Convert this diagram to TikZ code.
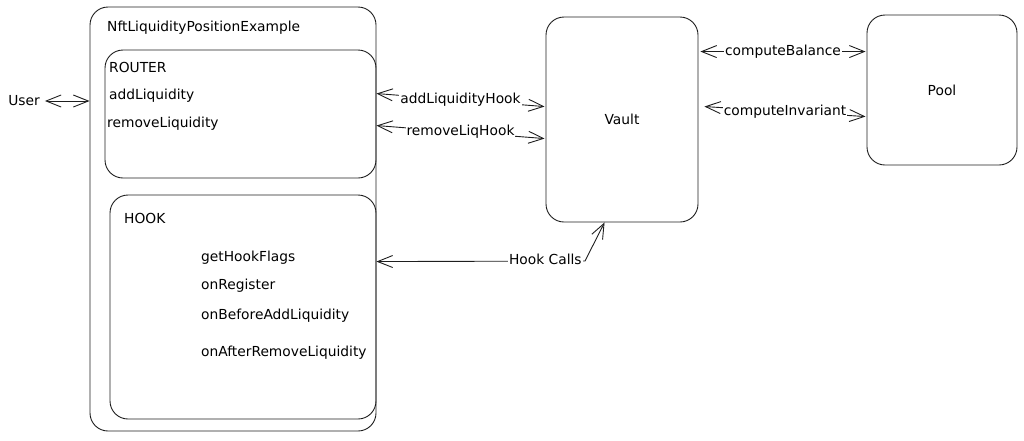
\documentclass[tikz,border=0pt]{standalone}
\usepackage{fontspec}
\setmainfont{DejaVu Sans}
\usetikzlibrary{arrows.meta,calc}
\definecolor{ink}{HTML}{1E1E1E}

\begin{document}
\begin{tikzpicture}[x=1pt,y=-1pt,
    font=\fontsize{13.8}{16}\selectfont,
    box/.style={draw=ink,line width=0.9pt,rounded corners=18pt,inner sep=0pt},
    txt/.style={anchor=west,inner sep=1pt},
    link/.style={draw=ink,line width=0.9pt,
      {Straight Barb[length=15pt,width=12pt]}-{Straight Barb[length=15pt,width=12pt]}},
    lbl/.style={fill=white,inner sep=1pt}]
    \useasboundingbox (0,0) rectangle (1024,440);

    % contract boxes
    \node[box,minimum width=286pt,minimum height=424pt] (nftpos) at (233,219) {};
    \node[box,minimum width=271pt,minimum height=128pt] (router) at (240.5,114) {};
    \node[box,minimum width=266pt,minimum height=224pt] (hook) at (243,307) {};
    \node[box,minimum width=152pt,minimum height=205pt] (vault) at (622,119.5) {Vault};
    \node[box,minimum width=150pt,minimum height=150pt] (pool) at (942,90) {Pool};

    \node[txt] (title) at (106,28) {NftLiquidityPositionExample};
    \node[txt] (routername) at (108,67) {ROUTER};
    \node[txt] (addliq) at (108,96) {addLiquidity};
    \node[txt] (removeliq) at (106,124) {removeLiquidity};
    \node[txt] (hookname) at (123,218) {HOOK};
    \node[txt] (flags) at (200,258) {getHookFlags};
    \node[txt] (register) at (200,286) {onRegister};
    \node[txt] (beforeadd) at (200,316) {onBeforeAddLiquidity};
    \node[txt] (afterremove) at (200,353) {onAfterRemoveLiquidity};

    \node[inner sep=5pt] (user) at (24,101) {User};

    % calls
    \draw[link] (user.east) -- (user.east -| nftpos.west);
    \draw[link] ($(router.north east)+(0,44)$) -- node[lbl] {addLiquidityHook} ($(vault.north west)+(-1,90)$);
    \draw[link] ($(router.north east)+(0,76)$) -- node[lbl] {removeLiqHook} ($(vault.north west)+(-1,122)$);
    \draw[link] ($(vault.north east)+(2,35)$) -- node[lbl] {computeBalance} ($(pool.north west)+(-1,37)$);
    \draw[link] ($(vault.north east)+(6,90)$) -- node[lbl] {computeInvariant} ($(pool.north west)+(-1,102)$);
    \draw[link] ($(hook.north east)+(0,67)$) -- (585,261) node[lbl,pos=0.81,yshift=2pt] {Hook Calls}
        -- ($(vault.south west)+(59,0)$);
\end{tikzpicture}
\end{document}
